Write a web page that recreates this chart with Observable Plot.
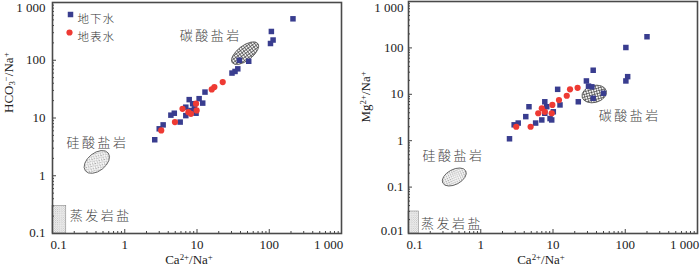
<!DOCTYPE html>
<html><head><meta charset="utf-8">
<script src="https://cdn.jsdelivr.net/npm/d3@7"></script>
<script src="https://cdn.jsdelivr.net/npm/@observablehq/plot@0.6"></script>
<style>
body{margin:0;background:#fff}
#wrap{display:flex;width:700px;height:270px;overflow:hidden}
#wrap svg{display:block}
g[font-family*="CJK"]{letter-spacing:2.5px}
g.legendtext{letter-spacing:1px}
</style>
</head><body><div id="wrap"></div>
<script>
// ---------- data ----------
const xMajor = [0.1, 1, 10, 100, 1000];
const xLabels = ["0.1", "1", "10", "100", "1 000"];
const yMajorL = [0.1, 1, 10, 100, 1000];
const yLabelsL = ["0.1", "1", "10", "100", "1 000"];
const yMajorR = [0.01, 0.1, 1, 10, 100, 1000];
const yLabelsR = ["0.01", "0.1", "1", "10", "100", "1 000"];

// left: HCO3-/Na+ vs Ca2+/Na+
const gwCaL  = [213, 107, 113, 104, 38.6, 52, 36.7, 33.6, 30.5, 12.9, 10.7, 7.8, 12.0, 8.7, 7.0, 9.2, 8.25, 7.0, 9.7, 4.85, 4.35, 5.85, 3.4, 3.0, 2.6];
const gwHCO3 = [522, 315, 224, 195, 100, 96, 71, 64, 60, 28.1, 21.6, 20.8, 18.1, 17.7, 15.4, 14.4, 13.5, 11.0, 12.1, 12.1, 11.2, 8.5, 7.6, 6.5, 4.2];
const swCaL  = [22.7, 17.4, 16.0, 9.7, 6.3, 7.6, 8.25, 9.9, 4.95, 3.2];
const swHCO3 = [41.9, 34.3, 31.3, 17.7, 14.4, 12.6, 11.8, 13.5, 8.5, 6.1];

// right: Mg2+/Na+ vs Ca2+/Na+
const gwCaR = [200, 102, 108, 102, 36, 29, 31, 34.5, 50, 36, 22.4, 11.6, 4.65, 7.7, 8.2, 12.5, 10.1, 7.7, 4.2, 7.0, 9.1, 9.6, 5.75, 3.3, 2.9, 2.5];
const gwMg  = [174, 102, 24, 19.4, 33, 19.4, 15, 14.5, 10.5, 8.2, 6.9, 12.8, 5.4, 6.9, 5.4, 5.9, 4.2, 3.9, 3.3, 2.8, 3.0, 2.8, 2.4, 2.4, 2.2, 1.1];
const swCaR = [21.9, 17.2, 15.5, 12.1, 9.8, 7.0, 7.7, 6.25, 9.6, 4.9, 3.1];
const swMg  = [13.8, 12.8, 9.3, 7.5, 5.9, 5.0, 4.2, 3.9, 3.9, 2.0, 2.0];

// end-member regions
const carbCenterL = [47, 130];
const siliCenterL = [0.417, 1.70];
const evapBoxL = {x1: 0.1, x2: 0.155, y1: 0.1, y2: 0.30};
const carbCenterR = [37.8, 9.9];
const siliCenterR = [0.437, 0.161];
const evapBoxR = {x1: 0.1, x2: 0.139, y1: 0.01, y2: 0.0298};

const regionNames = ["碳酸盐岩", "硅酸盐岩", "蒸发岩盐"];
const regionTextL = [[15.5, 269], [0.42, 3.77], [0.466, 0.20]];
const regionTextR = [[115, 3.49], [0.42, 0.48], [0.40, 0.0164]];

const seriesNames = ["地下水", "地表水"];
const xTitle = "Ca^{2+}/Na^{+}";
const yTitleL = "HCO_{3}^{−}/Na^{+}";
const yTitleR = "Mg^{2+}/Na^{+}";

// ---------- drawing ----------
const serif = "'Liberation Serif','Times New Roman',serif";
const cjk = "'Noto Sans CJK SC',sans-serif";
const BLUE = "#393d8f", RED = "#ee3a33";

function zip(xs, ys) { return xs.map((x, i) => ({x, y: ys[i]})); }
function minorOf(major) {
  const out = [];
  for (const d of major.slice(0, -1)) for (let k = 2; k < 10; k++) out.push(d * k);
  return out;
}
function defsMark(p) {
  return () => {
    const d = d3.create("svg:defs");
    const m = d.append("pattern").attr("id", p + "mesh").attr("width", 2.6).attr("height", 2.6).attr("patternUnits", "userSpaceOnUse");
    m.append("rect").attr("width", 2.6).attr("height", 2.6).attr("fill", "#f4f4f4");
    m.append("path").attr("d", "M0,0.4H2.6M0.4,0V2.6").attr("stroke", "#444").attr("stroke-width", 0.7);
    const s = d.append("pattern").attr("id", p + "dots").attr("width", 2.4).attr("height", 2.4).attr("patternUnits", "userSpaceOnUse");
    s.append("rect").attr("width", 2.4).attr("height", 2.4).attr("fill", "#fff");
    s.append("circle").attr("cx", 0.6).attr("cy", 0.6).attr("r", 0.5).attr("fill", "#555");
    s.append("circle").attr("cx", 1.8).attr("cy", 1.8).attr("r", 0.4).attr("fill", "#888");
    const e = d.append("pattern").attr("id", p + "evap").attr("width", 2.2).attr("height", 2.2).attr("patternUnits", "userSpaceOnUse");
    e.append("rect").attr("width", 2.2).attr("height", 2.2).attr("fill", "#f2f2f2");
    e.append("circle").attr("cx", 0.55).attr("cy", 0.55).attr("r", 0.42).attr("fill", "#888");
    e.append("circle").attr("cx", 1.65).attr("cy", 1.65).attr("r", 0.42).attr("fill", "#aaa");
    return d.node();
  };
}
function ellipseMark(center, {rx, ry, angle, fill}) {
  return Plot.dot([center], {x: d => d[0], y: d => d[1], render(index, scales, values) {
    const g = d3.create("svg:g");
    for (const i of index) g.append("ellipse")
      .attr("transform", `translate(${values.x[i]},${values.y[i]}) rotate(${angle})`)
      .attr("rx", rx).attr("ry", ry).attr("fill", fill)
      .attr("stroke", "#555").attr("stroke-width", 0.8);
    return g.node();
  }});
}
function richify(svg) {
  d3.select(svg).selectAll("text").each(function () {
    const t = this.textContent;
    if (!/[\^_]\{/.test(t)) return;
    const sel = d3.select(this);
    sel.text(null);
    const re = /([\^_])\{([^}]*)\}|([^\^_]+)/g;
    let m;
    while ((m = re.exec(t))) {
      if (m[3]) sel.append("tspan").text(m[3]);
      else sel.append("tspan").text(m[2]).attr("font-size", "68%")
        .attr("baseline-shift", m[1] === "^" ? "45%" : "-18%");
    }
  });
}

function makeChart(c) {
  const p = c.id;
  const fmt = (ticks, labels) => d => labels[ticks.indexOf(d)];
  const yMinor = minorOf(c.yMajor);
  const xMinor = minorOf(xMajor);
  const lab = {tickSize: 0, label: null, fontSize: 13, fontFamily: serif};
  const marks = [
    defsMark(p),
    Plot.rect([c.evap], {x1: "x1", x2: "x2", y1: "y1", y2: "y2", fill: `url(#${p}evap)`, stroke: "#888", strokeWidth: 0.6}),
    ellipseMark(c.sili, {...c.siliStyle, fill: `url(#${p}dots)`}),
    ellipseMark(c.carb, {...c.carbStyle, fill: `url(#${p}mesh)`}),
    // ticks (inward)
    Plot.axisX({ticks: xMajor, tickSize: -4, tickFormat: () => "", label: null, stroke: "#444"}),
    Plot.axisX({ticks: xMinor, tickSize: -2, tickFormat: () => "", label: null, stroke: "#444"}),
    Plot.axisY({ticks: c.yMajor, tickSize: -4, tickFormat: () => "", label: null, stroke: "#444"}),
    Plot.axisY({ticks: yMinor, tickSize: -2, tickFormat: () => "", label: null, stroke: "#444"}),
    // tick labels
    Plot.axisX({...lab, ticks: xMajor.slice(1, -1), tickPadding: 6, tickFormat: fmt(xMajor, xLabels)}),
    Plot.axisX({...lab, ticks: xMajor.slice(0, 1), tickPadding: 6, dx: 6, tickFormat: fmt(xMajor, xLabels)}),
    Plot.axisX({...lab, ticks: xMajor.slice(-1), tickPadding: 6, dx: -13, tickFormat: fmt(xMajor, xLabels)}),
    Plot.axisY({...lab, ticks: c.yMajor.slice(1, -1), tickPadding: c.yPad, tickFormat: fmt(c.yMajor, c.yLabels)}),
    Plot.axisY({...lab, ticks: c.yMajor.slice(0, 1), tickPadding: c.yPad, dy: c.bottomDy, tickFormat: fmt(c.yMajor, c.yLabels)}),
    Plot.axisY({...lab, ticks: c.yMajor.slice(-1), tickPadding: c.yPad, dy: c.topDy, tickFormat: fmt(c.yMajor, c.yLabels)}),
    Plot.frame({stroke: "#4a4a4a", strokeWidth: 1.6}),
    // region labels
    Plot.text(c.regionText, {x: d => d[0], y: d => d[1], text: (d, i) => regionNames[i], fontSize: 13, fontFamily: cjk, fontWeight: 300, fill: "#444"}),
    // data
    Plot.dot(zip(c.gwX, c.gwY), {x: "x", y: "y", symbol: "square", r: 3.1, fill: BLUE}),
    Plot.dot(zip(c.swX, c.swY), {x: "x", y: "y", symbol: "circle", r: 3.1, fill: RED}),
    // axis titles
    Plot.text([xTitle], {frameAnchor: "bottom", dx: c.xTitleDx, dy: 30, fontSize: 13, fontFamily: serif, fill: "#222"}),
    Plot.text([c.yTitle], {frameAnchor: "left", rotate: -90, dx: c.yTitleDx, dy: c.yTitleDy, fontSize: 13, fontFamily: serif, fill: "#222"})
  ];
  if (c.legend) {
    marks.push(
      Plot.dot([0], {frameAnchor: "top-left", dx: 18, dy: 12, symbol: "square", r: 3.1, fill: BLUE}),
      Plot.dot([0], {frameAnchor: "top-left", dx: 17, dy: 30, symbol: "circle", r: 3.1, fill: RED}),
      Plot.text([seriesNames[0]], {frameAnchor: "top-left", dx: 25, dy: 12, textAnchor: "start", fontSize: 11.5, fontFamily: cjk, fontWeight: 300, fill: "#333", className: "legendtext"}),
      Plot.text([seriesNames[1]], {frameAnchor: "top-left", dx: 25, dy: 30, textAnchor: "start", fontSize: 11.5, fontFamily: cjk, fontWeight: 300, fill: "#333", className: "legendtext"})
    );
  }
  const svg = Plot.plot({
    width: 350, height: 270,
    marginLeft: c.marginLeft, marginRight: c.marginRight, marginTop: c.marginTop, marginBottom: 37,
    x: {type: "log", domain: [0.1, 1000]},
    y: {type: "log", domain: [c.yMajor[0], c.yMajor[c.yMajor.length - 1]]},
    style: {background: "transparent", color: "#222", overflow: "visible"},
    marks
  });
  richify(svg);
  return svg;
}

const wrap = document.getElementById("wrap");
wrap.append(makeChart({
  id: "L", marginLeft: 52, marginRight: 9, marginTop: 2,
  yMajor: yMajorL, yLabels: yLabelsL, yPad: 7, topDy: 5, bottomDy: -1,
  gwX: gwCaL, gwY: gwHCO3, swX: swCaL, swY: swHCO3,
  evap: evapBoxL, carb: carbCenterL, sili: siliCenterL,
  carbStyle: {rx: 16, ry: 7.5, angle: -37}, siliStyle: {rx: 14.5, ry: 9, angle: -38},
  regionText: regionTextL, yTitle: yTitleL, xTitleDx: -8, yTitleDx: -44, yTitleDy: -5, legend: true
}));
wrap.append(makeChart({
  id: "R", marginLeft: 58, marginRight: 3, marginTop: 1,
  yMajor: yMajorR, yLabels: yLabelsR, yPad: 5, topDy: 6, bottomDy: -3,
  gwX: gwCaR, gwY: gwMg, swX: swCaR, swY: swMg,
  evap: evapBoxR, carb: carbCenterR, sili: siliCenterR,
  carbStyle: {rx: 12.5, ry: 8.5, angle: -15}, siliStyle: {rx: 13, ry: 7.5, angle: -28},
  regionText: regionTextR, yTitle: yTitleR, xTitleDx: -12, yTitleDx: -43, yTitleDy: 5, legend: false
}));
</script></body></html>
